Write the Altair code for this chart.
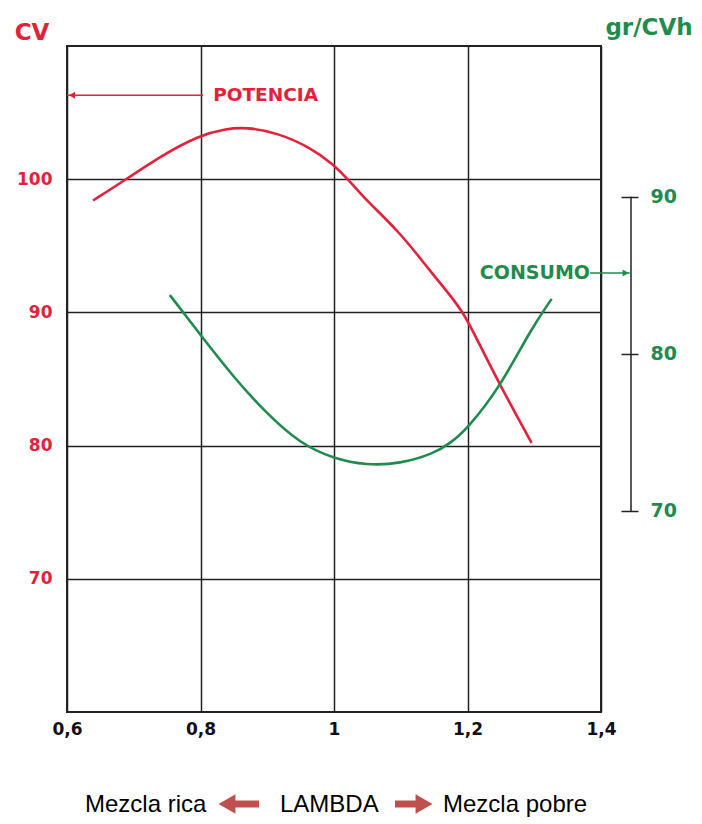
import altair as alt
import pandas as pd

# ---- data ----
lam_pot = [0.639, 0.689, 0.739, 0.798, 0.839, 0.869, 0.914, 0.964, 0.999, 1.021, 1.049, 1.074, 1.099,
           1.124, 1.149, 1.174, 1.196, 1.214, 1.249, 1.296]
potencia = [98.4, 100.0, 101.7, 103.3, 103.8, 103.9, 103.5, 102.4, 101.1, 100.0, 98.4, 97.2, 95.9,
            94.4, 92.8, 91.3, 89.8, 88.0, 84.5, 80.2]

lam_con = [0.754, 0.8, 0.849, 0.899, 0.949, 0.999, 1.049, 1.099, 1.149, 1.174, 1.2, 1.249, 1.294, 1.326]
consumo = [83.75, 81.2, 78.54, 76.2, 74.3, 73.33, 72.9, 73.0, 73.65, 74.3, 75.25, 77.9, 81.5, 83.5]

x_ticks = [0.6, 0.8, 1.0, 1.2, 1.4]
left_ticks = [70, 80, 90, 100]
right_ticks = [70, 80, 90]

RED = "#e2223a"
GREEN = "#1f8c4e"
ARROW = "#c0504d"
FONT = "DejaVu Sans"

W, H = 534, 666

xscale = alt.Scale(domain=[0.6, 1.4], nice=False, zero=False)
yl_scale = alt.Scale(domain=[60, 110], nice=False, zero=False)
yr_scale = alt.Scale(domain=[57.2, 99.6], nice=False, zero=False)

df_pot = pd.DataFrame({"lambda": lam_pot, "cv": potencia})
df_con = pd.DataFrame({"lambda": lam_con, "g": consumo})

x_axis = alt.Axis(values=x_ticks, grid=True, gridColor="#222", gridWidth=1.5, gridOpacity=1,
                  domain=False, ticks=False, labelFont=FONT, labelFontWeight="bold",
                  labelFontSize=17, labelColor="#111", labelPadding=9, format="~g",
                  labelFlush=False, labelOverlap=False,
                  labelExpr="replace(datum.label, '.', ',')", title=None)
yl_axis = alt.Axis(values=left_ticks, grid=True, gridColor="#222", gridWidth=1.5, gridOpacity=1,
                   domain=False, ticks=False, labelFont=FONT, labelFontSize=17, labelFontWeight="bold",
                   labelColor=RED, labelPadding=15, title=None)

red_line = alt.Chart(df_pot).mark_line(color=RED, strokeWidth=2.6, interpolate="basis").encode(
    x=alt.X("lambda:Q", scale=xscale, axis=x_axis),
    y=alt.Y("cv:Q", scale=yl_scale, axis=yl_axis),
)

# POTENCIA annotation
pot_ann = pd.DataFrame({"x1": [0.6], "x2": [0.804], "y": [106.3], "xt": [0.819], "label": ["POTENCIA"]})
pot_rule = alt.Chart(pot_ann).mark_rule(color=RED, strokeWidth=1.5).encode(
    x=alt.X("x1:Q", scale=xscale), x2="x2:Q", y=alt.Y("y:Q", scale=yl_scale))
pot_head = alt.Chart(pot_ann).mark_point(shape="triangle-left", filled=True, color=RED, size=50, opacity=1).encode(
    x=alt.X("x1:Q", scale=xscale), y=alt.Y("y:Q", scale=yl_scale), xOffset=alt.value(5))
pot_text = alt.Chart(pot_ann).mark_text(align="left", baseline="middle", font=FONT, fontWeight="bold",
                                        fontSize=18.5, color=RED).encode(
    x=alt.X("xt:Q", scale=xscale), y=alt.Y("y:Q", scale=yl_scale), text="label:N")

# fixed texts
cv_text = alt.Chart(pd.DataFrame({"t": ["CV"]})).mark_text(
    font=FONT, fontWeight="bold", fontSize=23, color=RED, align="center", baseline="middle").encode(
    x=alt.value(-35), y=alt.value(-13), text="t:N")
gr_text = alt.Chart(pd.DataFrame({"t": ["gr/CVh"]})).mark_text(
    font=FONT, fontWeight="bold", fontSize=23, color=GREEN, align="center", baseline="middle").encode(
    x=alt.value(582), y=alt.value(-18), text="t:N")

# bottom caption
cap = pd.DataFrame({"t": ["Mezcla rica", "LAMBDA", "Mezcla pobre"], "px": [18, 213, 376]})
cap_text = alt.Chart(cap).mark_text(font="Liberation Sans", fontSize=24, color="#000",
                                    align="left", baseline="middle").encode(
    x=alt.X("px:Q", scale=None), y=alt.value(759), text="t:N")
arr1 = alt.Chart(pd.DataFrame({"a": [1]})).mark_rule(color=ARROW, strokeWidth=7).encode(
    x=alt.value(162), x2=alt.value(192), y=alt.value(758))
arr1h = alt.Chart(pd.DataFrame({"a": [1]})).mark_point(shape="triangle-left", filled=True, color=ARROW,
                                                     size=380, opacity=1).encode(
    x=alt.value(160), y=alt.value(758))
arr2 = alt.Chart(pd.DataFrame({"a": [1]})).mark_rule(color=ARROW, strokeWidth=7).encode(
    x=alt.value(328), x2=alt.value(356), y=alt.value(758))
arr2h = alt.Chart(pd.DataFrame({"a": [1]})).mark_point(shape="triangle-right", filled=True, color=ARROW,
                                                     size=380, opacity=1).encode(
    x=alt.value(357), y=alt.value(758))

red_group = alt.layer(red_line, pot_rule, pot_head, pot_text, cv_text, gr_text,
                      cap_text, arr1, arr2, arr1h, arr2h)

# green / right axis group
yr_axis = alt.Axis(orient="right", values=right_ticks, grid=False, domain=False, ticks=True,
                   tickSize=17, tickWidth=1.5, tickColor="#222", offset=20,
                   labelFont=FONT, labelFontSize=19, labelFontWeight="bold", labelColor=GREEN,
                   labelPadding=12, title=None)

green_line = alt.Chart(df_con).mark_line(color=GREEN, strokeWidth=2.6, interpolate="basis").encode(
    x=alt.X("lambda:Q", scale=xscale),
    y=alt.Y("g:Q", scale=yr_scale, axis=yr_axis),
)
rax = pd.DataFrame({"lo": [min(right_ticks)], "hi": [max(right_ticks)]})
r_line = alt.Chart(rax).mark_rule(color="#222", strokeWidth=1.5).encode(
    x=alt.value(564), y=alt.Y("lo:Q", scale=yr_scale), y2="hi:Q")

con_ann = pd.DataFrame({"x1": [1.3835], "x2": [1.443], "y": [85.15], "label": ["CONSUMO"]})
con_rule = alt.Chart(con_ann).mark_rule(color=GREEN, strokeWidth=1.5).encode(
    x=alt.X("x1:Q", scale=xscale), x2="x2:Q", y=alt.Y("y:Q", scale=yr_scale))
con_head = alt.Chart(con_ann).mark_point(shape="triangle-right", filled=True, color=GREEN, size=50, opacity=1).encode(
    x=alt.X("x2:Q", scale=xscale), y=alt.Y("y:Q", scale=yr_scale), xOffset=alt.value(-4))
con_text = alt.Chart(con_ann).mark_text(align="right", baseline="middle", font=FONT, fontWeight="bold",
                                        fontSize=19, color=GREEN).encode(
    x=alt.X("x1:Q", scale=xscale), y=alt.Y("y:Q", scale=yr_scale), text="label:N")

green_group = alt.layer(green_line, r_line, con_rule, con_head, con_text)

chart = alt.layer(red_group, green_group).resolve_scale(y="independent").properties(
    width=W, height=H,
    autosize=alt.AutoSizeParams(type="none"),
    padding={"left": 67, "top": 46, "right": 101, "bottom": 112},
    background="white",
).configure_view(stroke="#222", strokeWidth=2)

chart.save("out.html", embed_options={"renderer": "svg", "actions": False})
